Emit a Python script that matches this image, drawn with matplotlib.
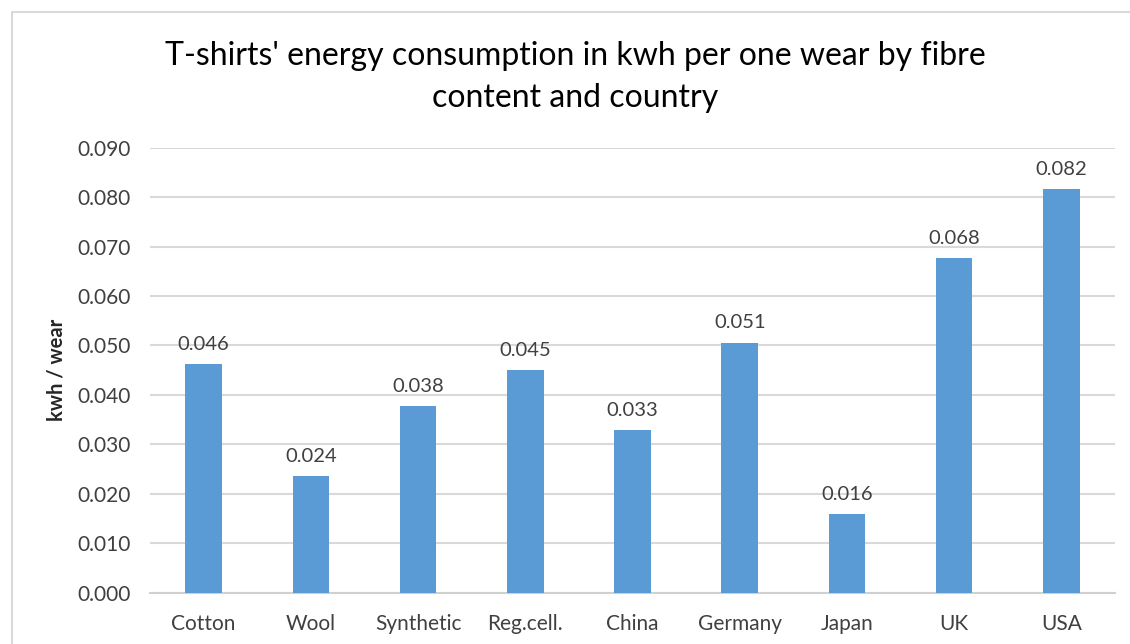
import matplotlib
matplotlib.use("Agg")
import matplotlib.pyplot as plt
from matplotlib.patches import Rectangle

# energy use per wear (kWh) for each fibre type and country of use
categories = ["Cotton", "Wool", "Synthetic", "Reg.cell.", "China",
              "Germany", "Japan", "UK", "USA"]
kwh_per_wear = [0.0463, 0.0236, 0.0378, 0.0451, 0.0329,
                0.0506, 0.0159, 0.0676, 0.0816]
y_ticks = [0.000, 0.010, 0.020, 0.030, 0.040, 0.050, 0.060, 0.070, 0.080, 0.090]

plt.rcParams['font.family'] = ['Lato', 'DejaVu Sans']
bar_color = '#5b9bd5'
text_color = '#262626'
label_color = '#404040'

fig = plt.figure(figsize=(11.3, 6.44), dpi=100)
fig.patch.set_facecolor('white')

# light frame around the chart area
fig.patches.append(Rectangle((12 / 1130, -0.1), 1.2, 1 - 12 / 644 + 0.1,
                             transform=fig.transFigure, fill=False,
                             edgecolor='#d9d9d9', linewidth=1.5))

ax = fig.add_axes([150 / 1130, 1 - 592.7 / 644, 965 / 1130, 445 / 644])

x = range(len(categories))
bars = ax.bar(x, kwh_per_wear, width=0.34, color=bar_color, zorder=3)

for b, v in zip(bars, kwh_per_wear):
    ax.annotate(f"{v:.3f}", (b.get_x() + b.get_width() / 2, v),
                xytext=(0, 8), textcoords='offset points',
                ha='center', va='bottom', fontsize=14.5, color=label_color)

ax.set_xlim(-0.5, len(categories) - 0.5)
ax.set_ylim(0, 0.09)
ax.set_yticks(y_ticks)
ax.set_yticklabels([f"{t:.3f}" for t in y_ticks])
ax.set_xticks(list(x))
ax.set_xticklabels(categories)
ax.tick_params(axis='y', length=0, pad=14, labelsize=15, labelcolor=label_color)
ax.tick_params(axis='x', length=0, pad=15, labelsize=15, labelcolor=label_color)

ax.grid(axis='y', color='#d9d9d9', linewidth=1.5, zorder=0)
for side in ['top', 'right', 'left']:
    ax.spines[side].set_visible(False)
ax.spines['bottom'].set_color('#d0d0d0')
ax.spines['bottom'].set_linewidth(1.5)

ax.set_ylabel("kwh / wear", fontsize=14.5, fontweight='bold', color=text_color,
              labelpad=8)

fig.text(0.509, 1 - 77 / 644,
         "T-shirts' energy consumption in kwh per one wear by fibre\ncontent and country",
         ha='center', va='center', fontsize=23, color='black', linespacing=1.5)

plt.savefig('out.png', dpi=100)
plt.close()
